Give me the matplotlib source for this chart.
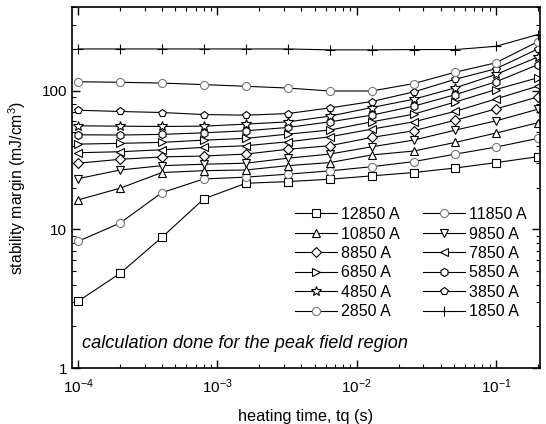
import matplotlib.pyplot as plt

tq = [1e-4, 2e-4, 4e-4, 8e-4, 1.6e-3, 3.2e-3, 6.4e-3, 1.28e-2, 2.56e-2, 5.12e-2, 0.1, 0.2]

m12850 = [3.03, 4.81, 8.76, 16.6, 21.5, 22.1, 23.0, 24.3, 25.7, 27.7, 30.3, 33.4]
m11850 = [8.2, 11.1, 18.4, 23.1, 23.8, 25.0, 26.4, 28.3, 30.8, 34.9, 39.2, 45.3]
m10850 = [16.3, 19.8, 25.7, 26.5, 26.8, 28.8, 30.3, 34.4, 36.7, 42.4, 49.5, 58.7]
m9850 = [23.2, 26.8, 28.8, 29.5, 30.0, 32.6, 34.9, 39.4, 44.0, 52.0, 60.6, 73.5]
m8850 = [30.0, 32.0, 33.3, 33.8, 34.9, 37.8, 40.1, 46.0, 51.4, 61.3, 73.9, 90.2]
m7850 = [35.7, 36.3, 37.5, 39.0, 40.1, 42.8, 46.5, 52.8, 59.6, 71.1, 87.2, 108]
m6850 = [41.2, 41.7, 42.4, 44.0, 45.3, 48.6, 52.0, 59.6, 67.7, 83.0, 102, 124]
m5850 = [48.1, 47.9, 48.4, 49.7, 51.4, 54.3, 59.6, 66.6, 77.3, 93.7, 116, 154]
m4850 = [55.8, 55.5, 55.2, 55.5, 57.4, 59.6, 65.5, 75.6, 86.7, 105, 131, 175]
m3850 = [72.3, 70.8, 69.6, 67.3, 66.6, 68.4, 75.1, 83.5, 97.9, 121, 144, 200]
m2850 = [116, 115, 113.5, 110.6, 107.6, 104.5, 99.5, 99.5, 112.5, 136, 159, 226]
m1850 = [200, 200, 200, 200, 200, 200, 197, 197, 198, 198, 209, 254]

series = [
    ("12850 A", m12850, "s"), ("11850 A", m11850, "o"),
    ("10850 A", m10850, "^"), ("9850 A", m9850, "v"),
    ("8850 A", m8850, "D"), ("7850 A", m7850, "<"),
    ("6850 A", m6850, ">"), ("5850 A", m5850, "h"),
    ("4850 A", m4850, "*"), ("3850 A", m3850, "p"),
    ("2850 A", m2850, "o"), ("1850 A", m1850, "+"),
]

plt.rcParams['font.family'] = ['Liberation Sans', 'DejaVu Sans']
plt.rcParams['mathtext.fontset'] = 'custom'
plt.rcParams['mathtext.rm'] = 'Liberation Sans'

fig = plt.figure(figsize=(5.46, 4.24), dpi=100)
ax = fig.add_axes([0.132, 0.132, 0.857, 0.851])

handles = {}
for name, vals, mk in series:
    edge = "#777777" if name in ("11850 A", "2850 A") else "black"
    ms = 5.8
    if mk == "D":
        ms = 5.3
    elif mk in ("*", "+"):
        ms = 7.3
    line, = ax.plot(tq, vals, color="black", lw=0.8, marker=mk, ms=ms,
                    mfc="white", mec=edge, mew=0.8, label=name)
    handles[name] = line

ax.set_xscale("log")
ax.set_yscale("log")
ax.set_xlim(10 ** -4.043, 0.207)
ax.set_ylim(1, 400)
ax.set_yticks([1, 10, 100])
ax.set_yticklabels(["1", "10", "100"])

ax.tick_params(which="both", direction="in", top=True, right=True, labelsize=11)
ax.tick_params(axis="x", which="major", pad=7)
ax.tick_params(which="major", length=6, width=1)
ax.tick_params(which="minor", length=3, width=0.8)
for sp in ax.spines.values():
    sp.set_linewidth(1.2)

ax.set_xlabel("heating time, tq (s)", fontsize=11.7, labelpad=9)
ax.set_ylabel("stability margin (mJ/cm$^3$)", fontsize=11.3, labelpad=10)

ax.text(0.022, 0.055, "calculation done for the peak field region",
        transform=ax.transAxes, fontsize=13.1, style="italic")

# legend filled row by row like the original (ncol=2 fills columns)
names = [s[0] for s in series]
order = names[0::2] + names[1::2]
ax.legend([handles[n] for n in order], order, ncol=2, loc="lower right",
          bbox_to_anchor=(0.985, 0.117), frameon=False, fontsize=11.5,
          handlelength=2.6, handletextpad=0.25, columnspacing=1.5,
          labelspacing=0.28, borderaxespad=0)

fig.savefig("out.png", dpi=100)
